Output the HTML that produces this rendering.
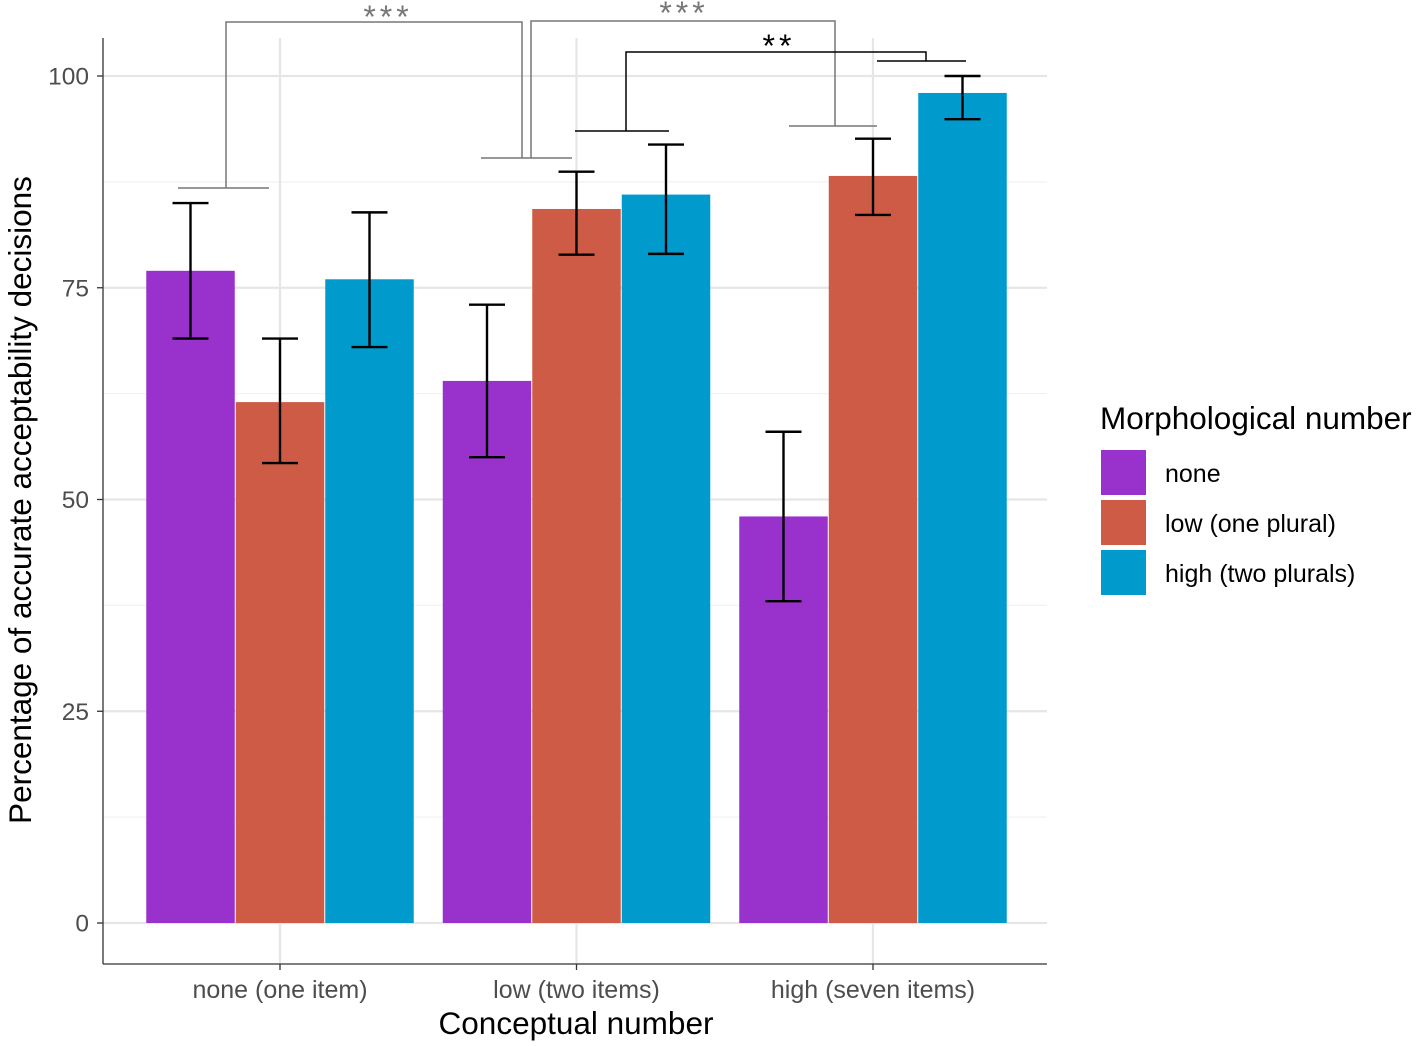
<!DOCTYPE html>
<html><head><meta charset="utf-8"><style>
html,body{margin:0;padding:0;background:#fff;}
svg{display:block;font-family:"Liberation Sans",sans-serif;}
</style></head><body>
<svg id="chart" width="1417" height="1046" viewBox="0 0 1417 1046" xmlns="http://www.w3.org/2000/svg">
<g id="grid"></g>
<g id="bars"></g>
<g id="errs"></g>
<g id="axes">
<line x1="103" y1="38" x2="103" y2="964" stroke="#333" stroke-width="1.3"/>
<line x1="103" y1="964" x2="1047" y2="964" stroke="#333" stroke-width="1.3"/>
</g>
<g id="sig">
<polyline points="178,188 269,188" fill="none" stroke="#777" stroke-width="1.5"/>
<polyline points="226,188 226,22 522,22 522,158" fill="none" stroke="#777" stroke-width="1.5"/>
<polyline points="481,158 572,158" fill="none" stroke="#777" stroke-width="1.5"/>
<polyline points="531,158 531,21 835,21 835,126" fill="none" stroke="#777" stroke-width="1.5"/>
<polyline points="789,126 877,126" fill="none" stroke="#777" stroke-width="1.5"/>
<text x="388" y="28" text-anchor="middle" font-size="32" letter-spacing="4" fill="#777">***</text>
<text x="684" y="24" text-anchor="middle" font-size="32" letter-spacing="4" fill="#777">***</text>
<polyline points="575,131 669,131" fill="none" stroke="#000" stroke-width="1.5"/>
<polyline points="626,131 626,52 926,52 926,61" fill="none" stroke="#000" stroke-width="1.5"/>
<polyline points="877,61 966,61" fill="none" stroke="#000" stroke-width="1.5"/>
<text x="779" y="57" text-anchor="middle" font-size="32" letter-spacing="4" fill="#000">**</text>
</g>
<text x="576" y="1034" text-anchor="middle" font-size="31.5" fill="#000">Conceptual number</text>
<text transform="translate(31,500) rotate(-90)" text-anchor="middle" font-size="31.5" fill="#000">Percentage of accurate acceptability decisions</text>
<g id="legend">
<text x="1100" y="429" font-size="31.5" fill="#000">Morphological number</text>
</g>
</svg>
<script>
const categories=["none (one item)","low (two items)","high (seven items)"];
const seriesNames=["none","low (one plural)","high (two plurals)"];
const valuesNone=[77,64,48];
const valuesLow=[61.5,84.3,88.2];
const valuesHigh=[76,86,98];
const lowNone=[69,55,38];
const highNone=[85,73,58];
const lowLow=[54.3,78.9,83.6];
const highLow=[69,88.7,92.6];
const lowHigh=[68,79,94.9];
const highHigh=[83.9,91.9,100];
const yTicks=[0,25,50,75,100];
const colors=["#9932CC","#CD5B45","#009ACD"];
const NS="http://www.w3.org/2000/svg";
const y=v=>923-v*8.47;
const cx=i=>280+i*296.5;
const bw=89.5;
function mk(tag,attrs,parent){const e=document.createElementNS(NS,tag);for(const k in attrs)e.setAttribute(k,attrs[k]);parent.appendChild(e);return e;}
const grid=document.getElementById('grid'),bars=document.getElementById('bars'),errs=document.getElementById('errs'),axes=document.getElementById('axes'),legend=document.getElementById('legend');
mk('rect',{x:103,y:38,width:944,height:926,fill:'#fff'},grid);
for(let i=0;i<yTicks.length-1;i++){const m=(yTicks[i]+yTicks[i+1])/2;mk('line',{x1:103,x2:1047,y1:y(m),y2:y(m),stroke:'#f2f2f2','stroke-width':1.2},grid);}
yTicks.forEach(t=>{
 mk('line',{x1:103,x2:1047,y1:y(t),y2:y(t),stroke:'#e6e6e6','stroke-width':2.2},grid);
 mk('line',{x1:97,x2:103,y1:y(t),y2:y(t),stroke:'#333','stroke-width':1.3},axes);
 const tx=mk('text',{x:89,y:y(t)+8.5,'text-anchor':'end','font-size':24.5,fill:'#4d4d4d'},axes);
 
 
 tx.textContent=t;
});
categories.forEach((c,i)=>{
 mk('line',{x1:cx(i),x2:cx(i),y1:38,y2:964,stroke:'#e6e6e6','stroke-width':2.2},grid);
 mk('line',{x1:cx(i),x2:cx(i),y1:964,y2:970,stroke:'#333','stroke-width':1.3},axes);
 const tx=mk('text',{x:cx(i),y:998,'text-anchor':'middle','font-size':25,fill:'#4d4d4d'},axes);
 
 
 tx.textContent=c;
});
const vals=[valuesNone,valuesLow,valuesHigh],lo=[lowNone,lowLow,lowHigh],hi=[highNone,highLow,highHigh];
vals.forEach((arr,s)=>{arr.forEach((v,i)=>{
 const x0=cx(i)+(s-1.5)*bw;
 const r=mk('rect',{x:x0+0.5,y:y(v),width:bw-1,height:y(0)-y(v),fill:colors[s]},bars);
 
 
 const xm=x0+bw/2;
 const g=mk('g',{stroke:'#000','stroke-width':2.4},errs);
 
 
 mk('line',{x1:xm,x2:xm,y1:y(hi[s][i]),y2:y(lo[s][i])},g);
 mk('line',{x1:xm-18,x2:xm+18,y1:y(hi[s][i]),y2:y(hi[s][i])},g);
 mk('line',{x1:xm-18,x2:xm+18,y1:y(lo[s][i]),y2:y(lo[s][i])},g);
});});
seriesNames.forEach((n,s)=>{
 const g=mk('g',{},legend);
 
 
 mk('rect',{x:1101,y:450+s*50,width:45,height:45,fill:colors[s]},g);
 const t=mk('text',{x:1165,y:482+s*50,'font-size':25,fill:'#000'},g);
 t.textContent=n;
});
</script>
</body></html>
